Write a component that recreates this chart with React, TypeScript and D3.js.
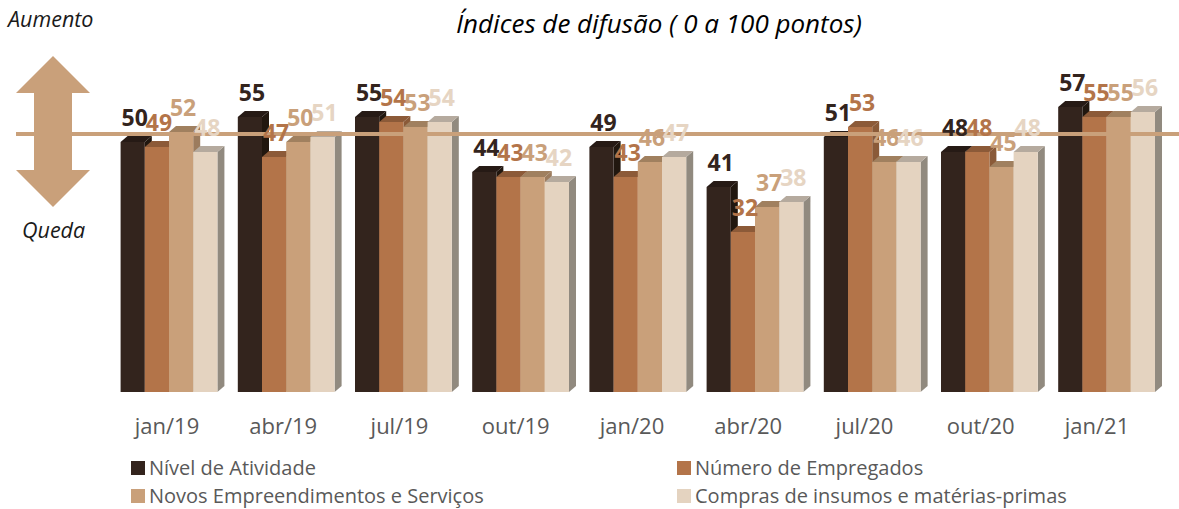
import React from 'react';
import * as d3 from 'd3';

const categories = ['jan/19', 'abr/19', 'jul/19', 'out/19', 'jan/20', 'abr/20', 'jul/20', 'out/20', 'jan/21'];
const seriesNames = [
  'Nível de Atividade',
  'Número de Empregados',
  'Novos Empreendimentos e Serviços',
  'Compras de insumos e matérias-primas',
];
const nivelAtividade = [50, 55, 55, 44, 49, 41, 51, 48, 57];
const numeroEmpregados = [49, 47, 54, 43, 43, 32, 53, 48, 55];
const novosEmpreendimentos = [52, 50, 53, 43, 46, 37, 46, 45, 55];
const comprasInsumos = [48, 51, 54, 42, 47, 38, 46, 48, 56];
const referenceValue = 50;

const seriesValues = [nivelAtividade, numeroEmpregados, novosEmpreendimentos, comprasInsumos];

const frontColors = ['#33241d', '#b37449', '#c9a07a', '#e4d3c0'];
const topColors = ['#261a15', '#8c5a38', '#a0805f', '#b5aa9e'];
const sideColors = ['#21170f', '#8a5a38', '#9c7c5e', '#918a7f'];
const labelColors = ['#33241d', '#b37449', '#c9a07a', '#e6d5c3'];

const W = 1179;
const H = 509;
const DX = 7;
const DY = 6;
const FONT = "'Open Sans', 'DejaVu Sans', sans-serif";

export default function App() {
  const baseY = 392;
  const y = d3.scaleLinear().domain([0, 60]).range([baseY, baseY - 300]);
  const step = 117.2;
  const inner = 0.174;
  const x0 = d3
    .scaleBand<string>()
    .domain(categories)
    .range([120.6, 120.6 + step * (categories.length - inner)])
    .paddingInner(inner)
    .paddingOuter(0);
  const x1 = d3
    .scaleBand<number>()
    .domain(d3.range(seriesValues.length))
    .range([0, x0.bandwidth()])
    .padding(0);
  const xLabel = d3.scalePoint<string>().domain(categories).range([167, 1097]);

  const bw = x1.bandwidth();
  const refY = y(referenceValue) - 8;

  const bars: React.ReactNode[] = [];
  const labels: React.ReactNode[] = [];
  categories.forEach((c, gi) => {
    seriesValues.forEach((vals, si) => {
      const v = vals[gi];
      const xl = (x0(c) as number) + (x1(si) as number);
      const xr = xl + bw;
      const yt = y(v);
      const key = `${gi}-${si}`;
      bars.push(
        <g key={key}>
          <polygon
            points={`${xr},${yt} ${xr + DX},${yt - DY} ${xr + DX},${baseY - DY} ${xr},${baseY}`}
            fill={sideColors[si]}
          />
          <polygon
            points={`${xl},${yt} ${xl + DX},${yt - DY} ${xr + DX},${yt - DY} ${xr},${yt}`}
            fill={topColors[si]}
          />
          <rect x={xl} y={yt} width={bw} height={baseY - yt} fill={frontColors[si]} />
        </g>
      );
      labels.push(
        <text
          key={'l' + key}
          x={xl + bw / 2 + 2}
          y={yt - DY - 10}
          textAnchor="middle"
          fontFamily={FONT}
          fontWeight={700}
          fontSize={23}
          fill={labelColors[si]}
        >
          {v}
        </text>
      );
    });
  });

  const ax = 53;
  const arrowPts = [
    [ax, 56],
    [90, 93],
    [72, 93],
    [72, 170],
    [90, 170],
    [ax, 207],
    [16, 170],
    [34, 170],
    [34, 93],
    [16, 93],
  ]
    .map((p) => p.join(','))
    .join(' ');

  const legendPos = [
    [131, 461],
    [677, 461],
    [131, 489],
    [677, 489],
  ];

  return (
    <svg
      width={W}
      height={H}
      viewBox={`0 0 ${W} ${H}`}
      style={{ position: 'absolute', left: 0, top: 0, background: '#fff' }}
    >
      <rect x={0} y={0} width={W} height={H} fill="#fff" />
      <text x={659} y={33} textAnchor="middle" fontFamily={FONT} fontStyle="italic" fontSize={26} fill="#000">
        Índices de difusão ( 0 a 100 pontos)
      </text>
      <text x={8} y={27} fontFamily={FONT} fontStyle="italic" fontSize={21.5} fill="#1a1a1a">
        Aumento
      </text>
      <text x={22} y={238} fontFamily={FONT} fontStyle="italic" fontSize={21.5} fill="#1a1a1a">
        Queda
      </text>
      <polygon points={arrowPts} fill="#c9a07a" />
      {bars}
      <line x1={16} x2={W} y1={refY} y2={refY} stroke="#c9a07a" strokeWidth={4} />
      {labels}
      {categories.map((c) => (
        <text
          key={c}
          x={xLabel(c)}
          y={434}
          textAnchor="middle"
          fontFamily={FONT}
          fontSize={22}
          fill="#595959"
        >
          {c}
        </text>
      ))}
      {seriesNames.map((n, i) => (
        <g key={n}>
          <rect x={legendPos[i][0]} y={legendPos[i][1]} width={14} height={14} fill={frontColors[i]} />
          <text
            x={legendPos[i][0] + 18}
            y={legendPos[i][1] + 14}
            fontFamily={FONT}
            fontSize={20}
            fill="#595959"
          >
            {n}
          </text>
        </g>
      ))}
    </svg>
  );
}
